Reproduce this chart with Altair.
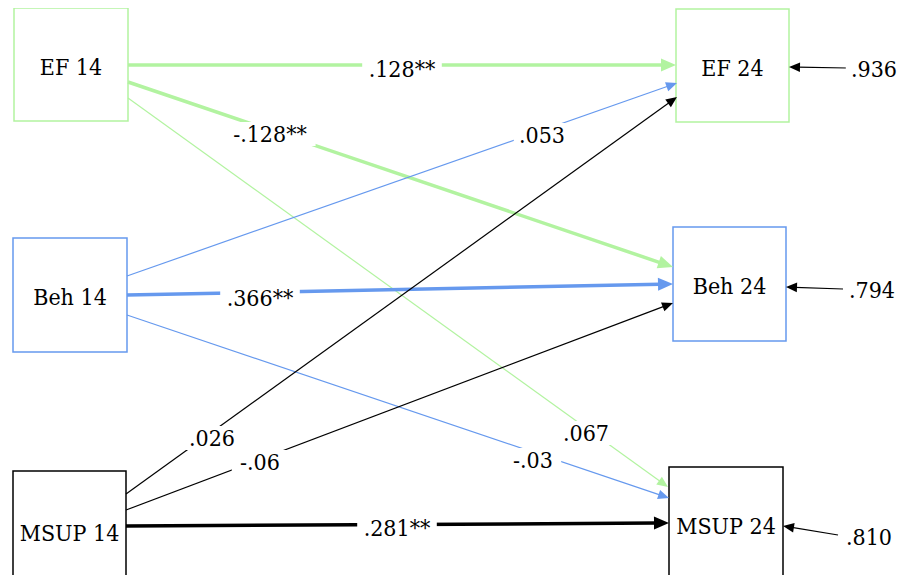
import altair as alt
import pandas as pd

# ---------------- data (image pixel space, y grows downward) ----------------
node_names = ["EF 14", "Beh 14", "MSUP 14", "EF 24", "Beh 24", "MSUP 24"]
node_group = ["EF", "Beh", "MSUP", "EF", "Beh", "MSUP"]
node_left = [14, 13, 13, 676, 673, 669]
node_right = [128, 127, 126, 789, 786, 783]
node_top = [8, 238, 471, 9, 227, 467]
node_bottom = [121, 352, 600, 122, 341, 580]

path_group = ["EF", "EF", "EF", "Beh", "Beh", "Beh", "MSUP", "MSUP", "MSUP"]
path_signif = ["yes", "yes", "no", "no", "yes", "no", "no", "no", "yes"]
path_x1 = [128, 128, 128, 127, 127, 127, 126, 126, 126]
path_y1 = [65, 82, 98, 276, 295, 315, 494, 510, 526]
path_x2 = [676, 673, 668, 677, 673, 669, 677, 673, 669]
path_y2 = [65, 267, 487, 83, 284, 498, 97, 303, 523]
path_label = [".128**", "-.128**", ".067", ".053", ".366**", "-.03", ".026", "-.06", ".281**"]
path_label_x = [402, 270, 586, 542, 260, 533, 212, 260, 397]
path_label_y = [69, 134, 433, 135, 298, 460, 438, 462, 528]

resid_x1 = [847, 843, 838]
resid_y1 = [68, 289, 535]
resid_x2 = [789, 786, 783]
resid_y2 = [67, 287, 526]
resid_label = [".936", ".794", ".810"]
resid_label_x = [874, 872, 869]
resid_label_y = [69, 290, 537]

# ---------------- tables ----------------
nodes = pd.DataFrame({
    "name": node_names, "group": node_group,
    "x0": node_left, "x1": node_right, "y0": node_top, "y1": node_bottom,
})

arrows = pd.DataFrame({
    "group": path_group + ["resid"] * 3,
    "sig": path_signif + ["no"] * 3,
    "x1": path_x1 + resid_x1, "y1": path_y1 + resid_y1,
    "x2": path_x2 + resid_x2, "y2": path_y2 + resid_y2,
})

labels = pd.DataFrame({
    "text": path_label + resid_label,
    "lx": path_label_x + resid_label_x,
    "ly": path_label_y + resid_label_y,
})

color_scale = alt.Scale(domain=["EF", "Beh", "MSUP", "resid"],
                        range=["#b2f3a0", "#6699ee", "#000000", "#000000"])
width_scale = alt.Scale(domain=["yes", "no"], range=[3.5, 1.2])
head_scale = alt.Scale(domain=["yes", "no"], range=[225, 121])

xs = alt.Scale(domain=[8, 901])
ys = alt.Scale(domain=[8, 575], reverse=True)

FONT = "DejaVu Serif Condensed"
ARROW = "M0,0 L0.87,2 L-0.87,2 Z"

boxes = alt.Chart(nodes).mark_rect(fillOpacity=0, strokeWidth=1.5).encode(
    x=alt.X("x0:Q", scale=xs, axis=None),
    x2="x1:Q",
    y=alt.Y("y0:Q", scale=ys, axis=None),
    y2="y1:Q",
    stroke=alt.Stroke("group:N", scale=color_scale, legend=None),
)

node_text = alt.Chart(nodes).transform_calculate(
    cx="(datum.x0 + datum.x1) / 2",
    cy="(min(datum.y1, 590) + datum.y0) / 2",
).mark_text(font=FONT, fontSize=23, color="black", baseline="middle", dy=3).encode(
    x=alt.X("cx:Q", scale=xs, axis=None),
    y=alt.Y("cy:Q", scale=ys, axis=None),
    text="name:N",
)

arrow_base = alt.Chart(arrows).transform_calculate(
    dx="datum.x2 - datum.x1",
    dy="datum.y2 - datum.y1",
    L="sqrt(pow(datum.x2 - datum.x1, 2) + pow(datum.y2 - datum.y1, 2))",
    hl="datum.sig == 'yes' ? 13 : 9",
).transform_calculate(
    xe="datum.x2 - datum.dx / datum.L * datum.hl",
    ye="datum.y2 - datum.dy / datum.L * datum.hl",
    ang="((atan2(datum.dx, -datum.dy) * 180 / PI) % 360 + 360) % 360",
)

lines = arrow_base.mark_rule(strokeCap="butt").encode(
    x=alt.X("x1:Q", scale=xs, axis=None),
    y=alt.Y("y1:Q", scale=ys, axis=None),
    x2="xe:Q",
    y2="ye:Q",
    stroke=alt.Stroke("group:N", scale=color_scale, legend=None),
    strokeWidth=alt.StrokeWidth("sig:N", scale=width_scale, legend=None),
)

heads = arrow_base.mark_point(shape=ARROW, filled=True, opacity=1, strokeWidth=0).encode(
    x=alt.X("x2:Q", scale=xs, axis=None),
    y=alt.Y("y2:Q", scale=ys, axis=None),
    angle=alt.Angle("ang:Q", scale=None),
    size=alt.Size("sig:N", scale=head_scale, legend=None),
    fill=alt.Fill("group:N", scale=color_scale, legend=None),
)

# white background boxes behind the coefficient labels (break the lines)
label_bg = alt.Chart(labels).transform_calculate(
    hw="length(datum.text) * 5.8 + 5",
).transform_calculate(
    bx0="datum.lx - datum.hw",
    bx1="datum.lx + datum.hw",
    by0="datum.ly - 12",
    by1="datum.ly + 12",
).mark_rect(fill="white", stroke="white", strokeWidth=0, opacity=1).encode(
    x=alt.X("bx0:Q", scale=xs, axis=None),
    x2="bx1:Q",
    y=alt.Y("by0:Q", scale=ys, axis=None),
    y2="by1:Q",
)

label_text = alt.Chart(labels).mark_text(
    font=FONT, fontSize=23, baseline="middle", dy=1, color="black",
).encode(
    x=alt.X("lx:Q", scale=xs, axis=None),
    y=alt.Y("ly:Q", scale=ys, axis=None),
    text="text:N",
)

chart = alt.layer(boxes, lines, heads, label_bg, label_text, node_text).properties(
    width=893, height=567, padding=0, autosize=alt.AutoSizeParams(type="none"),
    background="white",
).configure_view(stroke=None)

chart.save("out.html", embed_options={"renderer": "svg", "actions": False})
